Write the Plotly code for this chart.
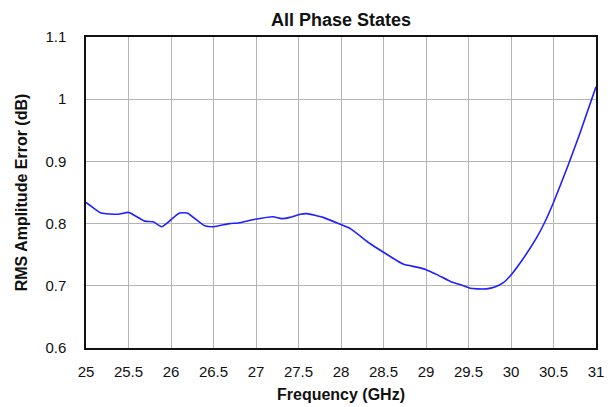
import plotly.graph_objects as go

# RMS amplitude error across all phase states vs frequency
freq_ghz = [25.00, 25.09, 25.18, 25.38, 25.50, 25.69, 25.79, 25.89, 25.99, 26.10,
            26.19, 26.39, 26.50, 26.69, 26.79, 26.99, 27.20, 27.30, 27.40, 27.52,
            27.60, 27.79, 27.99, 28.11, 28.34, 28.50, 28.73, 28.89, 29.00, 29.13,
            29.30, 29.40, 29.52, 29.60, 29.71, 29.81, 29.91, 30.01, 30.14, 30.30,
            30.40, 30.50, 30.67, 30.81, 31.00]
rms_err_db = [0.834, 0.825, 0.817, 0.815, 0.818, 0.804, 0.803, 0.795, 0.805, 0.817,
              0.817, 0.797, 0.795, 0.800, 0.801, 0.807, 0.811, 0.808, 0.810, 0.815,
              0.816, 0.810, 0.799, 0.792, 0.768, 0.754, 0.735, 0.730, 0.726, 0.718,
              0.706, 0.702, 0.696, 0.695, 0.695, 0.698, 0.705, 0.719, 0.743, 0.777,
              0.803, 0.834, 0.893, 0.945, 1.020]

x_ticks = [25, 25.5, 26, 26.5, 27, 27.5, 28, 28.5, 29, 29.5, 30, 30.5, 31]
x_tick_text = ["25", "25.5", "26", "26.5", "27", "27.5", "28", "28.5", "29",
               "29.5", "30", "30.5", "31"]
y_ticks = [0.6, 0.7, 0.8, 0.9, 1.0, 1.1]
y_tick_text = ["0.6", "0.7", "0.8", "0.9", "1", "1.1"]

font_family = "Liberation Sans, Arial, sans-serif"

fig = go.Figure()
fig.add_trace(go.Scatter(
    x=freq_ghz, y=rms_err_db, mode="lines",
    line=dict(color="#2020ff", width=1.6, shape="spline", smoothing=0.5),
    showlegend=False,
))

fig.update_layout(
    width=613, height=407,
    margin=dict(l=86, r=17, t=37, b=59),
    paper_bgcolor="white", plot_bgcolor="white",
    font=dict(family=font_family, color="#111111", size=15),
    title=dict(text="<b>All Phase States</b>", x=(86 + 596) / 2 / 613, xanchor="center",
               y=1 - 20 / 407, yanchor="middle", font=dict(size=18)),
)

fig.update_xaxes(
    range=[25, 31], tickvals=x_ticks, ticktext=x_tick_text,
    showgrid=True, gridcolor="#b4b4b4", gridwidth=1.4,
    showline=True, linecolor="#111111", linewidth=1.5, mirror=True,
    ticks="", ticklabelstandoff=9, zeroline=False, automargin=False,
    title=dict(text="<b>Frequency (GHz)</b>", font=dict(size=16), standoff=10),
)
fig.update_yaxes(
    range=[0.6, 1.1], tickvals=y_ticks, ticktext=y_tick_text,
    showgrid=True, gridcolor="#b4b4b4", gridwidth=1.4,
    showline=True, linecolor="#111111", linewidth=1.5, mirror=True,
    ticks="", ticklabelstandoff=15, zeroline=False, automargin=False,
    title=dict(text="<b>RMS Amplitude Error (dB)</b>", font=dict(size=16), standoff=14),
)

fig.write_html("out.html")
